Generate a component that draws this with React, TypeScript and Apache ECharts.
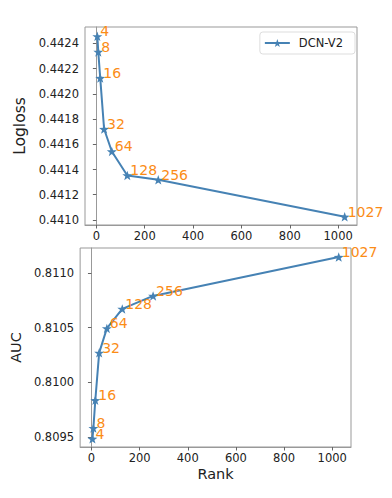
import React, { useEffect, useRef } from "react";
import * as echarts from "echarts";

const ranks = [4, 8, 16, 32, 64, 128, 256, 1027];
const loglossValues = [0.442456, 0.442332, 0.442125, 0.441721, 0.441543, 0.441353, 0.441318, 0.441025];
const aucValues = [0.809483, 0.809581, 0.809836, 0.81027, 0.810494, 0.810672, 0.810791, 0.811147];
const xTicks = [0, 200, 400, 600, 800, 1000];
const loglossTicks = [0.441, 0.4412, 0.4414, 0.4416, 0.4418, 0.442, 0.4422, 0.4424];
const aucTicks = [0.8095, 0.81, 0.8105, 0.811];
const seriesName = "DCN-V2";

const STAR =
  "path://M0,-10L2.35,-3.24L9.51,-3.09L3.8,1.24L5.88,8.09L0,4L-5.88,8.09L-3.8,1.24L-9.51,-3.09L-2.35,-3.24Z";

const FONT = "DejaVu Sans";
const ORANGE = "#fb8c16";
const BLUE = "#4682b4";

export default function App() {
  const ref = useRef<HTMLDivElement>(null);
  useEffect(() => {
    if (!ref.current) return;
    const chart = echarts.init(ref.current, undefined, { renderer: "svg" });
    const xAxisBase = (gridIndex: number, name?: string) => ({
      type: "value",
      gridIndex,
      min: -47,
      max: 1078,
      splitLine: { show: false },
      axisLine: { show: true, lineStyle: { color: "#999" } },
      axisTick: { show: true, length: 3.5, lineStyle: { color: "#666" }, customValues: xTicks },
      axisLabel: {
        customValues: xTicks,
        formatter: (v: number) => String(v),
        fontFamily: FONT,
        fontSize: 11.5,
        color: "#222",
        margin: 5,
      },
      name,
      nameLocation: "middle",
      nameGap: 19,
      nameTextStyle: { fontFamily: FONT, fontSize: 14.5, color: "#222" },
    });
    const yAxisBase = (
      gridIndex: number,
      min: number,
      max: number,
      ticks: number[],
      name: string,
      nameSize: number,
      nameGap: number
    ) => ({
      type: "value",
      gridIndex,
      min,
      max,
      splitLine: { show: false },
      axisLine: { show: true, lineStyle: { color: "#999" } },
      axisTick: { show: true, length: 3.5, lineStyle: { color: "#666" }, customValues: ticks },
      axisLabel: {
        customValues: ticks,
        formatter: (v: number) => v.toFixed(4),
        fontFamily: FONT,
        fontSize: 11.5,
        color: "#222",
        margin: 6,
      },
      name,
      nameLocation: "middle",
      nameRotate: 90,
      nameGap,
      nameTextStyle: { fontFamily: FONT, fontSize: nameSize, color: "#222" },
    });
    const seriesBase = (xi: number, values: number[]) => ({
      type: "line",
      name: seriesName,
      xAxisIndex: xi,
      yAxisIndex: xi,
      data: ranks.map((r, i) => [r, values[i]]),
      symbol: STAR,
      symbolSize: 10,
      symbolKeepAspect: true,
      lineStyle: { color: BLUE, width: 2 },
      itemStyle: { color: BLUE },
      label: {
        show: true,
        position: "right",
        distance: 0,
        offset: [-2, -5],
        formatter: (p: any) => String(ranks[p.dataIndex]),
        color: ORANGE,
        fontFamily: FONT,
        fontSize: 14,
      },
      emphasis: { disabled: true },
    });
    chart.setOption({
      animation: false,
      backgroundColor: "#fff",
      grid: [
        { left: 85, top: 27, width: 272, height: 198, show: true, borderColor: "#999", borderWidth: 1, backgroundColor: "transparent" },
        { left: 78, top: 248, width: 273, height: 199, show: true, borderColor: "#999", borderWidth: 1, backgroundColor: "transparent" },
      ],
      xAxis: [xAxisBase(0), xAxisBase(1, "Rank")],
      yAxis: [
        yAxisBase(0, 0.44096, 0.44253, loglossTicks, "Logloss", 15.5, 55),
        yAxisBase(1, 0.809408, 0.81123, aucTicks, "AUC", 14.5, 56),
      ],
      legend: {
        data: [seriesName],
        right: 37,
        top: 32,
        padding: [5, 12, 5, 4],
        borderColor: "#ddd",
        borderWidth: 1,
        borderRadius: 3,
        itemWidth: 25,
        itemHeight: 10,
        textStyle: { fontFamily: FONT, fontSize: 11.5, color: "#222", padding: [0, 0, 0, 4] },
      },
      series: [seriesBase(0, loglossValues), seriesBase(1, aucValues)],
    });
    return () => chart.dispose();
  }, []);
  return (
    <div
      ref={ref}
      style={{ position: "fixed", left: 0, top: 0, width: 392, height: 498 }}
    />
  );
}
